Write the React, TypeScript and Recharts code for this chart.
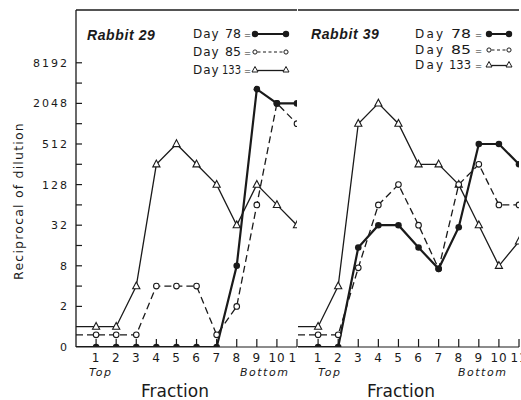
import React from "react";
import { LineChart, Line, XAxis, YAxis, ReferenceLine } from "recharts";

// values are log2 of the reciprocal dilution; -1 stands for a titre of 0
const fractions = [0, 1, 2, 3, 4, 5, 6, 7, 8, 9, 10, 11];

const rabbit29Day78 = [-1, -1, -1, -1, -1, -1, -1, -1, 3, 11.7, 11, 11];
const rabbit29Day85 = [-0.4, -0.4, -0.4, -0.4, 2, 2, 2, -0.4, 1, 6, 11, 10];
const rabbit29Day133 = [0, 0, 0, 2, 8, 9, 8, 7, 5, 7, 6, 5];

const rabbit39Day78 = [-1, -1, -1, 3.9, 5, 5, 3.9, 2.85, 4.9, 9, 9, 8];
const rabbit39Day85 = [-0.4, -0.4, -0.4, 2.9, 6, 7, 5, 2.85, 7, 8, 6, 6];
const rabbit39Day133 = [0, 0, 2, 10, 11, 10, 8, 8, 7, 5, 3, 4.2];

const xTicks = [1, 2, 3, 4, 5, 6, 7, 8, 9, 10, 11];
const yLabelTicks = [-1, 1, 3, 5, 7, 9, 11, 13];
const yLabelTexts = ["0", "2", "8", "32", "128", "512", "2048", "8192"];
const yMinorTicks = [2, 4, 6, 8, 10, 12];

const INK = "#1a1a1a";
const SANS = "'DejaVu Sans', sans-serif";
const Y_MIN = -1;
const Y_MAX = 15.6;
const PLOT_TOP = 10;
const PLOT_BOTTOM = 347;
const PLOT_LEFT = 76;

type Row = { fraction: number; d78: number; d85: number; d133: number };

const buildRows = (d78: number[], d85: number[], d133: number[]): Row[] =>
  fractions.map((f, i) => ({ fraction: f, d78: d78[i], d85: d85[i], d133: d133[i] }));

const rows29 = buildRows(rabbit29Day78, rabbit29Day85, rabbit29Day133);
const rows39 = buildRows(rabbit39Day78, rabbit39Day85, rabbit39Day133);

function XTick(props: any) {
  const { x, payload } = props;
  return (
    <g>
      <line x1={x} x2={x} y1={PLOT_BOTTOM} y2={PLOT_BOTTOM - 8} stroke={INK} strokeWidth={1.2} />
      <text x={x} y={PLOT_BOTTOM + 15} textAnchor="middle" fontFamily={SANS} fontSize={12} fill={INK} letterSpacing={0.8}>
        {payload.value}
      </text>
    </g>
  );
}

function YTick(props: any) {
  const { y, payload } = props;
  const idx = yLabelTicks.indexOf(payload.value);
  return (
    <g>
      {payload.value > Y_MIN && (
        <line x1={PLOT_LEFT} x2={PLOT_LEFT + 6} y1={y} y2={y} stroke={INK} strokeWidth={1.2} />
      )}
      {idx >= 0 && (
        <text x={PLOT_LEFT - 7} y={y + 4} textAnchor="end" fontFamily={SANS} fontSize={11} fill={INK} letterSpacing={2}>
          {yLabelTexts[idx]}
        </text>
      )}
    </g>
  );
}

const filledDot = (p: any) =>
  p.index === 0 ? <g key={`f${p.index}`} /> : <circle key={`f${p.index}`} cx={p.cx} cy={p.cy} r={3.3} fill={INK} />;

const openDot = (p: any) =>
  p.index === 0 ? (
    <g key={`o${p.index}`} />
  ) : (
    <circle key={`o${p.index}`} cx={p.cx} cy={p.cy} r={2.8} fill="#fff" stroke={INK} strokeWidth={1.1} />
  );

const triDot = (p: any) =>
  p.index === 0 ? (
    <g key={`t${p.index}`} />
  ) : (
    <polygon
      key={`t${p.index}`}
      points={`${p.cx},${p.cy - 4.2} ${p.cx - 3.6},${p.cy + 2.6} ${p.cx + 3.6},${p.cy + 2.6}`}
      fill="#fff"
      stroke={INK}
      strokeWidth={1.1}
    />
  );

function Panel({ rows, left, width, marginRight, showY }: { rows: Row[]; left: number; width: number; marginRight: number; showY: boolean }) {
  return (
    <div style={{ position: "absolute", left, top: 0 }}>
      <LineChart width={width} height={400} data={rows} margin={{ top: PLOT_TOP, right: marginRight, bottom: 0, left: 0 }}>
        <XAxis
          dataKey="fraction"
          type="number"
          domain={[0, 11]}
          ticks={xTicks}
          interval={0}
          height={400 - PLOT_BOTTOM}
          axisLine={{ stroke: INK, strokeWidth: 1.2 }}
          tickLine={false}
          tick={(p: any) => <XTick {...p} />}
          allowDataOverflow
        />
        <YAxis
          type="number"
          domain={[Y_MIN, Y_MAX]}
          ticks={[...yLabelTicks, ...yMinorTicks].sort((a, b) => a - b)}
          interval={0}
          width={showY ? PLOT_LEFT : 0}
          axisLine={{ stroke: INK, strokeWidth: 1.3 }}
          tickLine={false}
          tick={showY ? (p: any) => <YTick {...p} /> : false}
          allowDataOverflow
        />
        <ReferenceLine y={Y_MAX} stroke={INK} strokeWidth={1.3} />
        <Line type="linear" dataKey="d133" stroke={INK} strokeWidth={1.3} dot={triDot} activeDot={false} isAnimationActive={false} />
        <Line type="linear" dataKey="d85" stroke={INK} strokeWidth={1.3} strokeDasharray="7 4" dot={openDot} activeDot={false} isAnimationActive={false} />
        <Line type="linear" dataKey="d78" stroke={INK} strokeWidth={2.2} dot={filledDot} activeDot={false} isAnimationActive={false} />
      </LineChart>
    </div>
  );
}

type LegendLayout = { dayX: number; numEnd: number; eqX: number; symX: number; symW: number; ls: number; w2: number; w3: number };

function LegendRow({ y, day, kind, l }: { y: number; day: string; kind: string; l: LegendLayout }) {
  const a = l.symX;
  const b = l.symX + l.symW;
  const w = day.length > 2 ? l.w3 : l.w2;
  return (
    <g fontFamily={SANS} fontSize={12} fill={INK}>
      <text x={l.dayX} y={y + 4.4} letterSpacing={l.ls}>Day</text>
      <text x={l.numEnd - w} y={y + 4.4} textLength={w} lengthAdjust="spacingAndGlyphs">{day}</text>
      <text x={l.eqX} y={y + 3.6} fontSize={8.5}>=</text>
      {kind === "d78" && (
        <g>
          <line x1={a} x2={b} y1={y} y2={y} stroke={INK} strokeWidth={2} />
          <circle cx={a} cy={y} r={3.2} fill={INK} />
          <circle cx={b} cy={y} r={3.2} fill={INK} />
        </g>
      )}
      {kind === "d85" && (
        <g>
          <line x1={a + 2.5} x2={b - 2.5} y1={y} y2={y} stroke={INK} strokeWidth={1.1} strokeDasharray="3 2.5" />
          <circle cx={a} cy={y} r={2.1} fill="#fff" stroke={INK} strokeWidth={1} />
          <circle cx={b} cy={y} r={2.1} fill="#fff" stroke={INK} strokeWidth={1} />
        </g>
      )}
      {kind === "d133" && (
        <g>
          <line x1={a + 2} x2={b - 2} y1={y + 0.5} y2={y + 0.5} stroke={INK} strokeWidth={1.3} />
          <polygon points={`${a},${y - 3.5} ${a - 3},${y + 2} ${a + 3},${y + 2}`} fill="#fff" stroke={INK} strokeWidth={1} />
          <polygon points={`${b},${y - 3.5} ${b - 3},${y + 2} ${b + 3},${y + 2}`} fill="#fff" stroke={INK} strokeWidth={1} />
        </g>
      )}
    </g>
  );
}

const leftLegend: LegendLayout = { dayX: 193, numEnd: 241, eqX: 244, symX: 255, symW: 31, ls: 0.9, w2: 16, w3: 19 };
const rightLegend: LegendLayout = { dayX: 415, numEnd: 471, eqX: 475, symX: 489, symW: 20, ls: 2.2, w2: 20, w3: 22 };

export default function App() {
  const italic = { fontFamily: SANS, fontSize: 11, fontStyle: "italic" as const, letterSpacing: 1.5, fill: INK };
  const fraction = { fontFamily: SANS, fontSize: 17, fill: INK, textAnchor: "middle" as const };
  const title = { fontFamily: "'Liberation Sans', Arial, sans-serif", fontSize: 14, fontWeight: "bold" as const, fontStyle: "italic" as const, letterSpacing: 0.6, fill: INK };
  return (
    <div style={{ position: "absolute", left: 0, top: 0, width: 521, height: 400, overflow: "hidden", background: "#fff" }}>
      <Panel rows={rows29} left={0} width={298} marginRight={1} showY />
      <Panel rows={rows39} left={298} width={262} marginRight={41} showY={false} />
      <svg width={521} height={400} style={{ position: "absolute", left: 0, top: 0, pointerEvents: "none" }}>
        <text transform="translate(23,201) rotate(-90)" textAnchor="middle" fontFamily={SANS} fontSize={12.5} letterSpacing={1.2} fill={INK}>
          Reciprocal of dilution
        </text>

        <text x={87} y={40} {...title}>Rabbit 29</text>
        <LegendRow y={34} day="78" kind="d78" l={leftLegend} />
        <LegendRow y={52} day="85" kind="d85" l={leftLegend} />
        <LegendRow y={70} day="133" kind="d133" l={leftLegend} />

        <text x={311} y={39} {...title}>Rabbit 39</text>
        <LegendRow y={34} day="78" kind="d78" l={rightLegend} />
        <LegendRow y={50} day="85" kind="d85" l={rightLegend} />
        <LegendRow y={65} day="133" kind="d133" l={rightLegend} />

        <text x={89} y={376} {...italic}>Top</text>
        <text x={240} y={376} {...italic}>Bottom</text>
        <text x={318} y={376} {...italic}>Top</text>
        <text x={458} y={376} {...italic}>Bottom</text>

        <text x={175} y={397} {...fraction}>Fraction</text>
        <text x={401} y={397} {...fraction}>Fraction</text>
      </svg>
    </div>
  );
}
